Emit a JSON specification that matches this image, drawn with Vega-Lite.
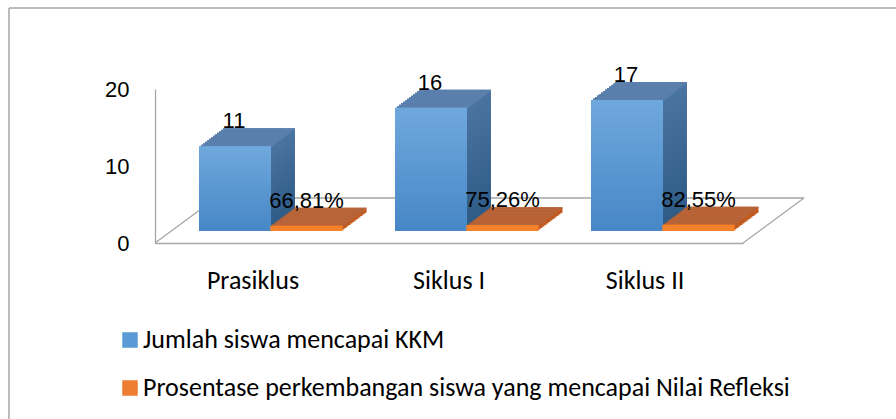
{
"$schema": "https://vega.github.io/schema/vega-lite/v6.json",
"autosize": {"type": "none"},
"padding": {"left": 155, "top": 89, "right": 153, "bottom": 176},
"width": 588,
"height": 154,
"background": "white",
"config": {
  "view": {"stroke": null},
  "legend": {"orient": "none", "legendX": -38, "legendY": 238, "direction": "vertical", "symbolType": "square", "symbolSize": 240, "symbolStrokeWidth": 0, "labelFont": "Carlito, Lato, sans-serif", "labelFontSize": 26, "labelColor": "#000000", "labelOffset": 0, "rowPadding": 22, "labelLimit": 0}
},
"datasets": {
  "biru": [
    {"kategori": "Prasiklus", "seri": "Jumlah siswa mencapai KKM", "nilai": 11, "label": "11"},
    {"kategori": "Siklus I", "seri": "Jumlah siswa mencapai KKM", "nilai": 16, "label": "16"},
    {"kategori": "Siklus II", "seri": "Jumlah siswa mencapai KKM", "nilai": 17, "label": "17"}
  ],
  "oranye": [
    {"kategori": "Prasiklus", "seri": "Prosentase perkembangan siswa yang mencapai Nilai Refleksi", "nilai": 0.6681, "label": "66,81%"},
    {"kategori": "Siklus I", "seri": "Prosentase perkembangan siswa yang mencapai Nilai Refleksi", "nilai": 0.7526, "label": "75,26%"},
    {"kategori": "Siklus II", "seri": "Prosentase perkembangan siswa yang mencapai Nilai Refleksi", "nilai": 0.8255, "label": "82,55%"}
  ]
},
"data": {"name": "biru"},
"encoding": {
  "x": {"field": "kategori", "type": "nominal", "sort": null, "scale": {"paddingInner": 0, "paddingOuter": 0},
        "axis": {"title": null, "ticks": false, "labelAngle": 0, "labelFont": "Carlito, Lato, sans-serif", "labelFontSize": 26, "labelColor": "#000000", "labelPadding": 24, "domainColor": "#a6a6a6", "domainWidth": 1.3}},
  "y": {"field": "nilai", "type": "quantitative", "scale": {"domain": [0, 20]},
        "axis": {"title": null, "ticks": false, "grid": false, "values": [0, 10, 20], "labelFont": "Liberation Sans", "labelFontSize": 22, "labelColor": "#000000", "labelPadding": 26, "domainColor": "#a6a6a6", "domainWidth": 1.3}}
},
"layer": [
  {"transform": [{"filter": {"field": "kategori", "equal": "Prasiklus"}}], "mark": {"type": "rule", "stroke": "#a6a6a6", "strokeWidth": 1.3, "xOffset": 61, "x2Offset": 61, "yOffset": -45},
   "encoding": {"x": {"value": 0}, "x2": {"value": "width"}, "y": {"datum": 0}}},
  {"transform": [{"filter": {"field": "kategori", "equal": "Prasiklus"}}], "mark": {"type": "rule", "stroke": "#a6a6a6", "strokeWidth": 1.3, "x2Offset": 61, "y2Offset": -45},
   "encoding": {"x": {"value": 0}, "x2": {"value": 0}, "y": {"datum": 0}, "y2": {"datum": 0}}},
  {"transform": [{"filter": {"field": "kategori", "equal": "Prasiklus"}}], "mark": {"type": "rule", "stroke": "#a6a6a6", "strokeWidth": 1.3, "x2Offset": 61, "y2Offset": -45},
   "encoding": {"x": {"value": "width"}, "x2": {"value": "width"}, "y": {"datum": 0}, "y2": {"datum": 0}}},

  {"mark": {"type": "bar", "width": {"band": 0.367}, "fill": {"gradient": "linear", "x1": 0, "y1": 0, "x2": 0, "y2": 1, "stops": [{"offset": 0, "color": "#4a74a2"}, {"offset": 1, "color": "#2e5a86"}]}, "xOffset": 6, "yOffset": -30, "y2Offset": -30}},
  {"mark": {"type": "bar", "width": {"band": 0.367}, "fill": {"gradient": "linear", "x1": 0, "y1": 0, "x2": 0, "y2": 1, "stops": [{"offset": 0, "color": "#4a74a2"}, {"offset": 1, "color": "#2e5a86"}]}, "xOffset": 4, "yOffset": -28.5, "y2Offset": -28.5}},
  {"mark": {"type": "bar", "width": {"band": 0.367}, "fill": {"gradient": "linear", "x1": 0, "y1": 0, "x2": 0, "y2": 1, "stops": [{"offset": 0, "color": "#4a74a2"}, {"offset": 1, "color": "#2e5a86"}]}, "xOffset": 2, "yOffset": -27, "y2Offset": -27}},
  {"mark": {"type": "bar", "width": {"band": 0.367}, "fill": {"gradient": "linear", "x1": 0, "y1": 0, "x2": 0, "y2": 1, "stops": [{"offset": 0, "color": "#4a74a2"}, {"offset": 1, "color": "#2e5a86"}]}, "xOffset": 0, "yOffset": -25.5, "y2Offset": -25.5}},
  {"mark": {"type": "bar", "width": {"band": 0.367}, "fill": {"gradient": "linear", "x1": 0, "y1": 0, "x2": 0, "y2": 1, "stops": [{"offset": 0, "color": "#4a74a2"}, {"offset": 1, "color": "#2e5a86"}]}, "xOffset": -2, "yOffset": -24, "y2Offset": -24}},
  {"mark": {"type": "bar", "width": {"band": 0.367}, "fill": {"gradient": "linear", "x1": 0, "y1": 0, "x2": 0, "y2": 1, "stops": [{"offset": 0, "color": "#4a74a2"}, {"offset": 1, "color": "#2e5a86"}]}, "xOffset": -4, "yOffset": -22.5, "y2Offset": -22.5}},
  {"mark": {"type": "bar", "width": {"band": 0.367}, "fill": {"gradient": "linear", "x1": 0, "y1": 0, "x2": 0, "y2": 1, "stops": [{"offset": 0, "color": "#4a74a2"}, {"offset": 1, "color": "#2e5a86"}]}, "xOffset": -6, "yOffset": -21, "y2Offset": -21}},
  {"mark": {"type": "bar", "width": {"band": 0.367}, "fill": {"gradient": "linear", "x1": 0, "y1": 0, "x2": 0, "y2": 1, "stops": [{"offset": 0, "color": "#4a74a2"}, {"offset": 1, "color": "#2e5a86"}]}, "xOffset": -8, "yOffset": -19.5, "y2Offset": -19.5}},
  {"mark": {"type": "bar", "width": {"band": 0.367}, "fill": {"gradient": "linear", "x1": 0, "y1": 0, "x2": 0, "y2": 1, "stops": [{"offset": 0, "color": "#4a74a2"}, {"offset": 1, "color": "#2e5a86"}]}, "xOffset": -10, "yOffset": -18, "y2Offset": -18}},
  {"mark": {"type": "bar", "width": {"band": 0.367}, "fill": {"gradient": "linear", "x1": 0, "y1": 0, "x2": 0, "y2": 1, "stops": [{"offset": 0, "color": "#4a74a2"}, {"offset": 1, "color": "#2e5a86"}]}, "xOffset": -12, "yOffset": -16.5, "y2Offset": -16.5}},
  {"mark": {"type": "bar", "width": {"band": 0.367}, "fill": {"gradient": "linear", "x1": 0, "y1": 0, "x2": 0, "y2": 1, "stops": [{"offset": 0, "color": "#4a74a2"}, {"offset": 1, "color": "#2e5a86"}]}, "xOffset": -14, "yOffset": -15, "y2Offset": -15}},
  {"mark": {"type": "bar", "width": {"band": 0.367}, "fill": {"gradient": "linear", "x1": 0, "y1": 0, "x2": 0, "y2": 1, "stops": [{"offset": 0, "color": "#4a74a2"}, {"offset": 1, "color": "#2e5a86"}]}, "xOffset": -16, "yOffset": -13.5, "y2Offset": -13.5}},

  {"mark": {"type": "bar", "width": {"band": 0.367}, "fill": "#5b80ae", "xOffset": 6, "yOffset": -30, "y2Offset": -28.4}, "encoding": {"y2": {"field": "nilai"}}},
  {"mark": {"type": "bar", "width": {"band": 0.367}, "fill": "#5b80ae", "xOffset": 4, "yOffset": -28.5, "y2Offset": -26.9}, "encoding": {"y2": {"field": "nilai"}}},
  {"mark": {"type": "bar", "width": {"band": 0.367}, "fill": "#5b80ae", "xOffset": 2, "yOffset": -27, "y2Offset": -25.4}, "encoding": {"y2": {"field": "nilai"}}},
  {"mark": {"type": "bar", "width": {"band": 0.367}, "fill": "#5b80ae", "xOffset": 0, "yOffset": -25.5, "y2Offset": -23.9}, "encoding": {"y2": {"field": "nilai"}}},
  {"mark": {"type": "bar", "width": {"band": 0.367}, "fill": "#5b80ae", "xOffset": -2, "yOffset": -24, "y2Offset": -22.4}, "encoding": {"y2": {"field": "nilai"}}},
  {"mark": {"type": "bar", "width": {"band": 0.367}, "fill": "#5b80ae", "xOffset": -4, "yOffset": -22.5, "y2Offset": -20.9}, "encoding": {"y2": {"field": "nilai"}}},
  {"mark": {"type": "bar", "width": {"band": 0.367}, "fill": "#5b80ae", "xOffset": -6, "yOffset": -21, "y2Offset": -19.4}, "encoding": {"y2": {"field": "nilai"}}},
  {"mark": {"type": "bar", "width": {"band": 0.367}, "fill": "#5b80ae", "xOffset": -8, "yOffset": -19.5, "y2Offset": -17.9}, "encoding": {"y2": {"field": "nilai"}}},
  {"mark": {"type": "bar", "width": {"band": 0.367}, "fill": "#5b80ae", "xOffset": -10, "yOffset": -18, "y2Offset": -16.4}, "encoding": {"y2": {"field": "nilai"}}},
  {"mark": {"type": "bar", "width": {"band": 0.367}, "fill": "#5b80ae", "xOffset": -12, "yOffset": -16.5, "y2Offset": -14.9}, "encoding": {"y2": {"field": "nilai"}}},
  {"mark": {"type": "bar", "width": {"band": 0.367}, "fill": "#5b80ae", "xOffset": -14, "yOffset": -15, "y2Offset": -13.4}, "encoding": {"y2": {"field": "nilai"}}},
  {"mark": {"type": "bar", "width": {"band": 0.367}, "fill": "#5b80ae", "xOffset": -16, "yOffset": -13.5, "y2Offset": -11.9}, "encoding": {"y2": {"field": "nilai"}}},

  {"mark": {"type": "bar", "width": {"band": 0.367}, "xOffset": -18, "yOffset": -12, "y2Offset": -12},
   "encoding": {"color": {"field": "seri", "type": "nominal", "scale": {"domain": ["Jumlah siswa mencapai KKM", "Prosentase perkembangan siswa yang mencapai Nilai Refleksi"], "range": ["#5b9bd5", "#ed7d31"]}, "legend": {"title": null}}}},
  {"mark": {"type": "bar", "width": {"band": 0.367}, "xOffset": -18, "yOffset": -12, "y2Offset": -12, "fill": {"gradient": "linear", "x1": 0, "y1": 0, "x2": 0, "y2": 1, "stops": [{"offset": 0, "color": "#6fa8dd"}, {"offset": 1, "color": "#4787c6"}]}}},

  {"data": {"name": "oranye"}, "mark": {"type": "bar", "width": {"band": 0.367}, "fill": "#c25a1e", "xOffset": 77.5, "yOffset": -30, "y2Offset": -30}},
  {"data": {"name": "oranye"}, "mark": {"type": "bar", "width": {"band": 0.367}, "fill": "#c25a1e", "xOffset": 75.5, "yOffset": -28.5, "y2Offset": -28.5}},
  {"data": {"name": "oranye"}, "mark": {"type": "bar", "width": {"band": 0.367}, "fill": "#c25a1e", "xOffset": 73.5, "yOffset": -27, "y2Offset": -27}},
  {"data": {"name": "oranye"}, "mark": {"type": "bar", "width": {"band": 0.367}, "fill": "#c25a1e", "xOffset": 71.5, "yOffset": -25.5, "y2Offset": -25.5}},
  {"data": {"name": "oranye"}, "mark": {"type": "bar", "width": {"band": 0.367}, "fill": "#c25a1e", "xOffset": 69.5, "yOffset": -24, "y2Offset": -24}},
  {"data": {"name": "oranye"}, "mark": {"type": "bar", "width": {"band": 0.367}, "fill": "#c25a1e", "xOffset": 67.5, "yOffset": -22.5, "y2Offset": -22.5}},
  {"data": {"name": "oranye"}, "mark": {"type": "bar", "width": {"band": 0.367}, "fill": "#c25a1e", "xOffset": 65.5, "yOffset": -21, "y2Offset": -21}},
  {"data": {"name": "oranye"}, "mark": {"type": "bar", "width": {"band": 0.367}, "fill": "#c25a1e", "xOffset": 63.5, "yOffset": -19.5, "y2Offset": -19.5}},
  {"data": {"name": "oranye"}, "mark": {"type": "bar", "width": {"band": 0.367}, "fill": "#c25a1e", "xOffset": 61.5, "yOffset": -18, "y2Offset": -18}},
  {"data": {"name": "oranye"}, "mark": {"type": "bar", "width": {"band": 0.367}, "fill": "#c25a1e", "xOffset": 59.5, "yOffset": -16.5, "y2Offset": -16.5}},
  {"data": {"name": "oranye"}, "mark": {"type": "bar", "width": {"band": 0.367}, "fill": "#c25a1e", "xOffset": 57.5, "yOffset": -15, "y2Offset": -15}},
  {"data": {"name": "oranye"}, "mark": {"type": "bar", "width": {"band": 0.367}, "fill": "#c25a1e", "xOffset": 55.5, "yOffset": -13.5, "y2Offset": -13.5}},

  {"data": {"name": "oranye"}, "mark": {"type": "bar", "width": {"band": 0.367}, "fill": "#b7653b", "xOffset": 77.5, "yOffset": -30, "y2Offset": -28.4}, "encoding": {"y2": {"field": "nilai"}}},
  {"data": {"name": "oranye"}, "mark": {"type": "bar", "width": {"band": 0.367}, "fill": "#b7653b", "xOffset": 75.5, "yOffset": -28.5, "y2Offset": -26.9}, "encoding": {"y2": {"field": "nilai"}}},
  {"data": {"name": "oranye"}, "mark": {"type": "bar", "width": {"band": 0.367}, "fill": "#b7653b", "xOffset": 73.5, "yOffset": -27, "y2Offset": -25.4}, "encoding": {"y2": {"field": "nilai"}}},
  {"data": {"name": "oranye"}, "mark": {"type": "bar", "width": {"band": 0.367}, "fill": "#b7653b", "xOffset": 71.5, "yOffset": -25.5, "y2Offset": -23.9}, "encoding": {"y2": {"field": "nilai"}}},
  {"data": {"name": "oranye"}, "mark": {"type": "bar", "width": {"band": 0.367}, "fill": "#b7653b", "xOffset": 69.5, "yOffset": -24, "y2Offset": -22.4}, "encoding": {"y2": {"field": "nilai"}}},
  {"data": {"name": "oranye"}, "mark": {"type": "bar", "width": {"band": 0.367}, "fill": "#b7653b", "xOffset": 67.5, "yOffset": -22.5, "y2Offset": -20.9}, "encoding": {"y2": {"field": "nilai"}}},
  {"data": {"name": "oranye"}, "mark": {"type": "bar", "width": {"band": 0.367}, "fill": "#b7653b", "xOffset": 65.5, "yOffset": -21, "y2Offset": -19.4}, "encoding": {"y2": {"field": "nilai"}}},
  {"data": {"name": "oranye"}, "mark": {"type": "bar", "width": {"band": 0.367}, "fill": "#b7653b", "xOffset": 63.5, "yOffset": -19.5, "y2Offset": -17.9}, "encoding": {"y2": {"field": "nilai"}}},
  {"data": {"name": "oranye"}, "mark": {"type": "bar", "width": {"band": 0.367}, "fill": "#b7653b", "xOffset": 61.5, "yOffset": -18, "y2Offset": -16.4}, "encoding": {"y2": {"field": "nilai"}}},
  {"data": {"name": "oranye"}, "mark": {"type": "bar", "width": {"band": 0.367}, "fill": "#b7653b", "xOffset": 59.5, "yOffset": -16.5, "y2Offset": -14.9}, "encoding": {"y2": {"field": "nilai"}}},
  {"data": {"name": "oranye"}, "mark": {"type": "bar", "width": {"band": 0.367}, "fill": "#b7653b", "xOffset": 57.5, "yOffset": -15, "y2Offset": -13.4}, "encoding": {"y2": {"field": "nilai"}}},
  {"data": {"name": "oranye"}, "mark": {"type": "bar", "width": {"band": 0.367}, "fill": "#b7653b", "xOffset": 55.5, "yOffset": -13.5, "y2Offset": -11.9}, "encoding": {"y2": {"field": "nilai"}}},

  {"data": {"name": "oranye"}, "mark": {"type": "bar", "width": {"band": 0.367}, "xOffset": 53.5, "yOffset": -12, "y2Offset": -12},
   "encoding": {"color": {"field": "seri", "type": "nominal", "scale": {"domain": ["Jumlah siswa mencapai KKM", "Prosentase perkembangan siswa yang mencapai Nilai Refleksi"], "range": ["#5b9bd5", "#ed7d31"]}, "legend": {"title": null}}}},
  {"data": {"name": "oranye"}, "mark": {"type": "bar", "width": {"band": 0.367}, "xOffset": 53.5, "yOffset": -12, "y2Offset": -12, "fill": "#f5822b"}},

  {"mark": {"type": "text", "font": "Liberation Sans", "fontSize": 22, "color": "#000000", "baseline": "alphabetic", "align": "center", "xOffset": -19, "yOffset": -30}, "encoding": {"text": {"field": "label"}}},
  {"data": {"name": "oranye"}, "mark": {"type": "text", "font": "Liberation Sans", "fontSize": 22, "color": "#000000", "baseline": "alphabetic", "align": "center", "xOffset": 53.5, "yOffset": -30}, "encoding": {"text": {"field": "label"}}},

  {"transform": [{"filter": {"field": "kategori", "equal": "Prasiklus"}}], "mark": {"type": "rule", "stroke": "#a6a6a6", "strokeWidth": 1.5, "xOffset": -146, "x2Offset": 200, "yOffset": -81},
   "encoding": {"x": {"value": 0}, "x2": {"value": "width"}, "y": {"datum": 20}}},
  {"transform": [{"filter": {"field": "kategori", "equal": "Prasiklus"}}], "mark": {"type": "rule", "stroke": "#a6a6a6", "strokeWidth": 1.5, "xOffset": -146, "yOffset": -81, "y2Offset": 200},
   "encoding": {"x": {"value": 0}, "y": {"datum": 20}, "y2": {"datum": 0}}}
]
}
